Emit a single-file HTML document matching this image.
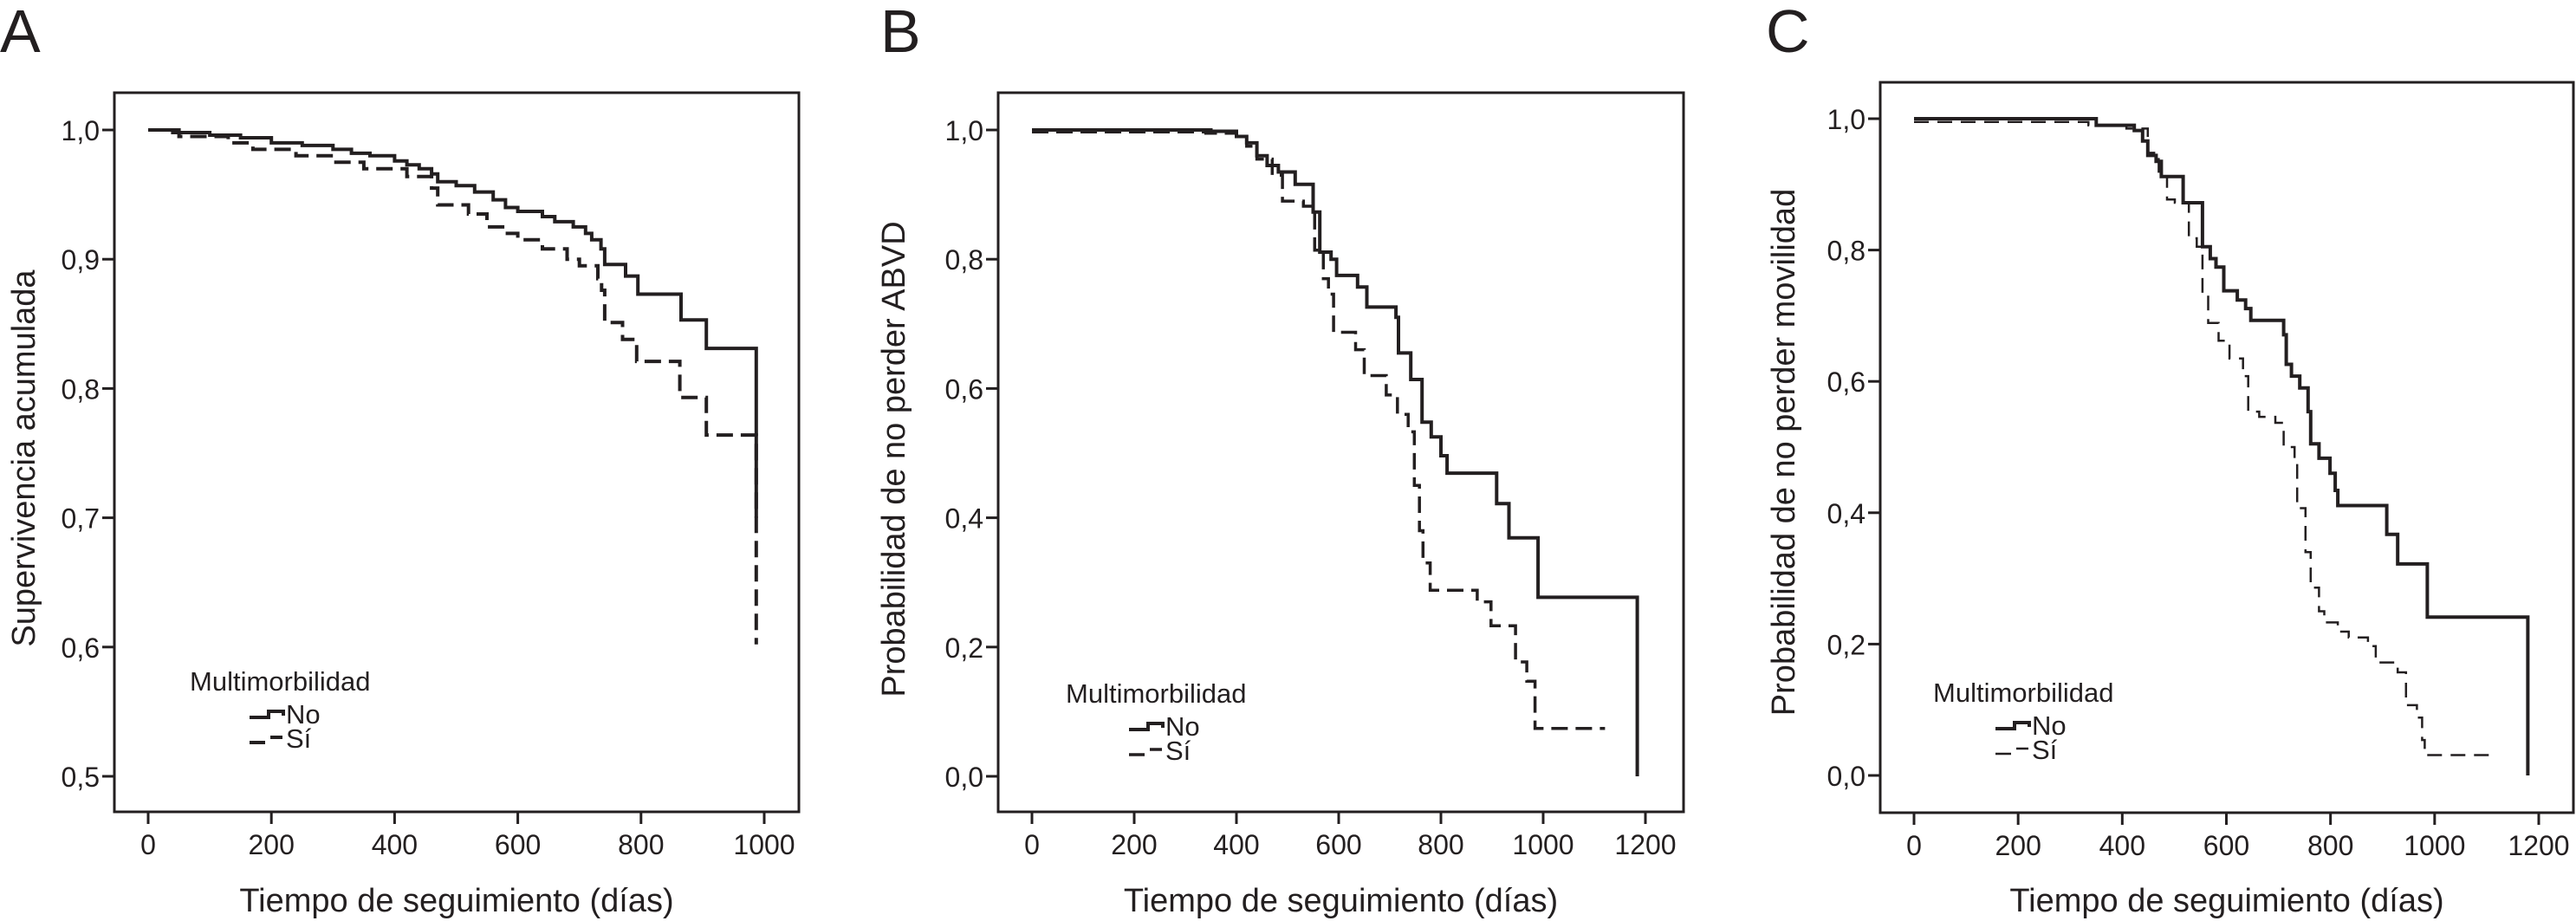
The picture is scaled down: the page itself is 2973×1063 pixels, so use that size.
<!DOCTYPE html>
<html><head><meta charset="utf-8"><style>
html,body{margin:0;padding:0;background:#fff}
svg{display:block}
text{font-family:"Liberation Sans",Arial,sans-serif;fill:#231f20}
</style></head><body>
<svg id="fig" width="2973" height="1063" viewBox="0 0 2973 1063" xmlns="http://www.w3.org/2000/svg">
<text x="0" y="60" font-size="70">A</text>
<text x="1016" y="60" font-size="70">B</text>
<text x="2038" y="60" font-size="70">C</text>
<g id="pa"></g>
<g id="pb"></g>
<g id="pc"></g>
</svg>
<script>
// Panel A data
const aNoT=[0,40,100,150,200,250,300,330,360,400,420,440,460,470,500,530,560,580,600,640,660,690,710,720,735,741,775,795,865,906,987];
const aNoS=[1,0.998,0.996,0.994,0.990,0.988,0.985,0.982,0.980,0.976,0.973,0.970,0.966,0.960,0.957,0.952,0.946,0.940,0.937,0.933,0.929,0.925,0.920,0.915,0.908,0.896,0.887,0.873,0.853,0.831,0.70];
const aSiT=[0,50,130,170,240,300,350,420,460,470,520,550,580,600,640,680,700,730,736,741,770,793,863,906,987];
const aSiS=[1,0.995,0.990,0.985,0.980,0.975,0.970,0.964,0.955,0.942,0.935,0.925,0.920,0.915,0.908,0.900,0.895,0.885,0.876,0.851,0.838,0.821,0.793,0.764,0.602];
const aYTicks=[1.0,0.9,0.8,0.7,0.6,0.5];
const aYLabels=["1,0","0,9","0,8","0,7","0,6","0,5"];
const aXTicks=[0,200,400,600,800,1000];
// Panel B data
const bNoT=[0,350,400,420,440,460,482,515,550,563,585,596,637,655,712,717,741,763,781,800,812,909,933,990,1184];
const bNoS=[1,0.998,0.99,0.98,0.96,0.945,0.935,0.916,0.873,0.811,0.80,0.775,0.757,0.726,0.71,0.655,0.614,0.548,0.525,0.496,0.469,0.422,0.369,0.277,0.0];
const bSiT=[0,340,400,420,440,470,490,531,553,570,580,590,633,650,693,715,736,748,758,765,779,871,898,946,968,984];
const bSiS=[0.997,0.995,0.99,0.975,0.955,0.93,0.89,0.882,0.814,0.77,0.746,0.687,0.66,0.62,0.59,0.56,0.533,0.45,0.38,0.33,0.288,0.27,0.233,0.177,0.147,0.074];
const bSiEnd=1121;
const bYTicks=[1.0,0.8,0.6,0.4,0.2,0.0];
const bYLabels=["1,0","0,8","0,6","0,4","0,2","0,0"];
const bXTicks=[0,200,400,600,800,1000,1200];
// Panel C data
const cNoT=[0,350,423,439,449,465,475,517,554,569,580,595,621,637,647,710,715,725,741,757,762,778,799,809,814,908,929,986,1179];
const cNoS=[1,0.99,0.982,0.966,0.944,0.935,0.912,0.872,0.805,0.787,0.774,0.738,0.724,0.711,0.693,0.671,0.626,0.608,0.59,0.554,0.505,0.483,0.46,0.434,0.411,0.367,0.322,0.241,0.0];
const cSiT=[0,335,408,449,470,486,501,528,543,554,565,585,606,632,642,663,694,710,731,736,752,762,778,788,814,835,872,887,929,945,966,976,981];
const cSiS=[0.995,0.99,0.985,0.948,0.912,0.877,0.872,0.818,0.805,0.733,0.689,0.662,0.635,0.608,0.554,0.546,0.537,0.50,0.477,0.407,0.34,0.286,0.25,0.233,0.219,0.21,0.197,0.172,0.157,0.107,0.088,0.054,0.031];
const cSiEnd=1117;
const cYTicks=bYTicks;
const cYLabels=bYLabels;
const cXTicks=bXTicks;

const NS="http://www.w3.org/2000/svg";
function mk(parent,tag,attrs){const e=document.createElementNS(NS,tag);for(const k in attrs)e.setAttribute(k,attrs[k]);parent.appendChild(e);return e;}
function stepPath(T,S,sx,sy,endT){let d="M"+sx(T[0]).toFixed(1)+","+sy(S[0]).toFixed(1);for(let i=1;i<T.length;i++){d+="H"+sx(T[i]).toFixed(1)+"V"+sy(S[i]).toFixed(1);}if(endT!==undefined)d+="H"+sx(endT).toFixed(1);return d;}
function panel(g,cfg){
  const sx=t=>cfg.x0+(t-cfg.t0)/(cfg.t1-cfg.t0)*(cfg.x1-cfg.x0);
  const sy=s=>cfg.y0+(s-cfg.s0)/(cfg.s1-cfg.s0)*(cfg.y1-cfg.y0);
  const box=mk(g,"rect",{x:cfg.bx0,y:cfg.by0,width:cfg.bx1-cfg.bx0,height:cfg.by1-cfg.by0,fill:"none",stroke:"#231f20","stroke-width":3});
  
  
  cfg.yt.forEach((v,i)=>{
    const l=mk(g,"line",{x1:cfg.bx0-14,x2:cfg.bx0,y1:sy(v),y2:sy(v),stroke:"#231f20","stroke-width":3});
    
    
    const t=mk(g,"text",{x:cfg.bx0-17,y:sy(v)+12,"font-size":32,"text-anchor":"end"});t.textContent=cfg.yl[i];
    
    
  });
  cfg.xt.forEach(v=>{
    const l=mk(g,"line",{x1:sx(v),x2:sx(v),y1:cfg.by1,y2:cfg.by1+14,stroke:"#231f20","stroke-width":3});
    
    
    const t=mk(g,"text",{x:sx(v),y:cfg.by1+49,"font-size":32,"text-anchor":"middle"});t.textContent=String(v);
    
    
  });
  const xt=mk(g,"text",{x:(cfg.bx0+cfg.bx1)/2,y:1052,"font-size":38,"text-anchor":"middle"});xt.textContent="Tiempo de seguimiento (días)";
  
  
  const yt=mk(g,"text",{x:0,y:0,"font-size":38,"text-anchor":"middle",transform:"translate("+(cfg.ytx)+","+cfg.yty+") rotate(-90)"});yt.textContent=cfg.ytitle;
  
  
  const pn=mk(g,"path",{d:stepPath(cfg.noT,cfg.noS,sx,sy),fill:"none",stroke:"#231f20","stroke-width":4});
  
  
  const ps=mk(g,"path",{d:stepPath(cfg.siT,cfg.siS,sx,sy,cfg.siEnd),fill:"none",stroke:"#231f20","stroke-width":cfg.dw,"stroke-dasharray":cfg.dash});
  
  
  const L=cfg.leg;
  const lt=mk(g,"text",{x:L.x,y:L.y,"font-size":31});lt.textContent="Multimorbilidad";
  
  
  const ln=mk(g,"path",{d:"M"+L.sx+","+(L.y+31)+"h22v-7h17v5",fill:"none",stroke:"#231f20","stroke-width":4});
  
  
  const tn=mk(g,"text",{x:L.sx+42,y:L.y+38,"font-size":31});tn.textContent="No";
  
  
  const ls=mk(g,"path",{d:"M"+L.sx+","+(L.y+60)+"h18m6,-6h14",fill:"none",stroke:"#231f20","stroke-width":cfg.dw});
  
  
  const ts=mk(g,"text",{x:L.sx+42,y:L.y+66,"font-size":31});ts.textContent="Sí";
  
  
}
panel(document.getElementById("pa"),{bx0:132,bx1:922,by0:107,by1:937,x0:171,x1:882,t0:0,t1:1000,y0:150,y1:896,s0:1,s1:0.5,
  yt:aYTicks,yl:aYLabels,xt:aXTicks,ytitle:"Supervivencia acumulada",ytx:40,yty:529,
  noT:aNoT,noS:aNoS,siT:aSiT,siS:aSiS,dw:4,dash:"19 9",leg:{x:219,y:797,sx:288}});
panel(document.getElementById("pb"),{bx0:1152,bx1:1943,by0:107,by1:937,x0:1191,x1:1899,t0:0,t1:1200,y0:150,y1:896,s0:1,s1:0,
  yt:bYTicks,yl:bYLabels,xt:bXTicks,ytitle:"Probabilidad de no perder ABVD",ytx:1044,yty:530,
  noT:bNoT,noS:bNoS,siT:bSiT,siS:bSiS,siEnd:bSiEnd,dw:3.5,dash:"19 9",leg:{x:1230,y:811,sx:1303}});
panel(document.getElementById("pc"),{bx0:2170,bx1:2970,by0:95,by1:938,x0:2209,x1:2930,t0:0,t1:1200,y0:137,y1:895,s0:1,s1:0,
  yt:cYTicks,yl:cYLabels,xt:cXTicks,ytitle:"Probabilidad de no perder movilidad",ytx:2071,yty:522,
  noT:cNoT,noS:cNoS,siT:cSiT,siS:cSiS,siEnd:cSiEnd,dw:2.5,dash:"17 10",leg:{x:2231,y:810,sx:2303}});
</script>
</body></html>
